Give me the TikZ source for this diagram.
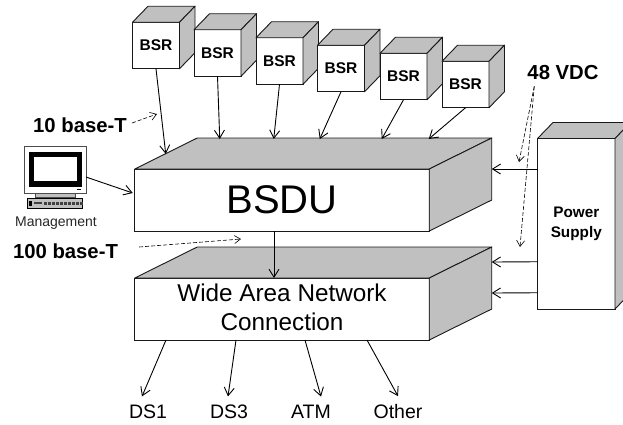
\documentclass[tikz,border=0pt]{standalone}
\usepackage{fontspec}
\setmainfont{Liberation Sans}
\usetikzlibrary{arrows.meta}

\definecolor{facegray}{HTML}{C0C0C0}

% grey top and side of a box, #1 is the front node
\newcommand{\boxfaces}[3]{
	\filldraw[face] (#1.north west) -- ([shift={(#2,-#3)}]#1.north west) -- ([shift={(#2,-#3)}]#1.north east) -- (#1.north east) -- cycle;
	\filldraw[face] (#1.north east) -- ([shift={(#2,-#3)}]#1.north east) -- ([shift={(#2,-#3)}]#1.south east) -- (#1.south east) -- cycle;
}

\begin{document}
\begin{tikzpicture}[x=1pt,y=-1pt]
	\tikzstyle{front}=[rectangle,draw=black!90,fill=white,line width=0.9pt,inner sep=0pt,outer sep=0pt,align=center]
	\tikzstyle{bsrbox}=[front,minimum width=47pt,minimum height=46.5pt,font=\fontsize{15.5}{18}\selectfont\bfseries]
	\tikzstyle{unit}=[front,minimum width=294.5pt,minimum height=62pt]
	\tikzstyle{face}=[draw=black!90,fill=facegray,line width=0.9pt,line join=round]
	\tikzstyle{edge}=[draw=black,line width=0.9pt,-{Straight Barb[length=8pt,width=10pt]}]
	\tikzstyle{hint}=[draw=black,line width=0.6pt,dash pattern=on 4pt off 2pt,-{Straight Barb[length=6pt,width=8pt]}]
	\tikzstyle{boldlabel}=[inner sep=0pt,font=\fontsize{20.3}{24}\selectfont\bfseries]
	\tikzstyle{outlabel}=[inner sep=0pt,font=\fontsize{19.5}{23}\selectfont]

	\useasboundingbox (0,0) rectangle (623,424);

	\foreach \n/\x/\y in {1/156/45.5,2/217.5/53,3/279.5/61,4/341/68.5,5/403.5/76.5,6/465.5/84.5}{
		\node [bsrbox] (bsr\n) at (\x,\y) {BSR};
		\boxfaces{bsr\n}{15.5}{16}
	}

	\node [unit,font=\fontsize{40}{44}\selectfont] (bsdu) at (282,200) {BSDU};
	\boxfaces{bsdu}{62.5}{31}
	\node [unit] (wan) at (282,309) {};
	\boxfaces{wan}{62.5}{31}
	\node [align=center,inner sep=0pt,font=\fontsize{24.3}{29}\selectfont] (wantext) at ([yshift=2]wan.center) {Wide Area Network\\Connection};
	\node [front,minimum width=77.5pt,minimum height=170.5pt,font=\fontsize{15.3}{19.5}\selectfont\bfseries] (power) at (576.25,223.75) {Power\\Supply};
	\boxfaces{power}{15.5}{16}

	% management terminal
	\node [front,draw=black!70,minimum width=62pt,minimum height=47pt] (monitor) at (55,169.5) {};
	\fill [black] (29,152) rectangle (82,187);
	\fill [white] (34,157) rectangle (77,181);
	\fill [black] (77,188.5) rectangle (81,190);
	\filldraw [draw=black!70,fill=facegray,line width=0.5pt] (35,193) rectangle (75,197);
	\filldraw [draw=black,fill=facegray,line width=0.7pt] (27,198) rectangle (82,208);
	\foreach \x in {44,48,...,80}{
		\fill [black!75] (\x,202) rectangle ++(2.5,3);
	}
	\fill [black] (29,201) rectangle (32,206);
	\fill [black!75] (34,202) rectangle (42,204);
	\node [inner sep=0pt,font=\fontsize{14}{16}\selectfont,text=black!85] (mgmt) at (56,223) {Management};

	\node [boldlabel] (tenbase) at (80,125) {10 base-T};
	\node [boldlabel] (hundredbase) at (65.5,251) {100 base-T};
	\node [boldlabel] (vdc) at (563,73) {48 VDC};
	\node [outlabel] (dsone) at (148,411.5) {DS1};
	\node [outlabel] (dsthree) at (229,411.5) {DS3};
	\node [outlabel] (atm) at (311,411.5) {ATM};
	\node [outlabel] (other) at (398,411.5) {Other};

	\coordinate (tenend) at (157,114);
	\coordinate (hundredend) at (241,239);
	\coordinate (vdcupper) at (519,162);
	\coordinate (vdclower) at (520,247);

	\foreach \n/\dx/\dy in {1/31/-15,2/85/-30,3/139/-30,4/185/-30,5/247/-30,6/294/-30}{
		\path[edge] (bsr\n.south) -- ([shift={(\dx,\dy)}]bsdu.north west);
	}
	\path[edge] ([yshift=-7.5]monitor.east) -- ([shift={(-2,-7)}]bsdu.west);
	\path[edge] ([xshift=-8]bsdu.south) -- ([xshift=-8]wan.north);
	\path[edge] (power.west |- bsdu.north) -- ([xshift=62.5]bsdu.north east);
	\path[edge] ([yshift=-38]power.west) -- ([shift={(62.5,-16)}]wan.north east);
	\path[edge] ([yshift=-69]power.west) -- ([shift={(62.5,15)}]wan.north east);

	\path[edge] ([xshift=-116]wan.south) -- ([shift={(-6,-8)}]dsone.north);
	\path[edge] ([xshift=-46]wan.south) -- ([shift={(-1,-8)}]dsthree.north);
	\path[edge] ([xshift=23]wan.south) -- ([shift={(10,-8)}]atm.north);
	\path[edge] ([xshift=85]wan.south) -- ([yshift=8]other.north);

	\path[hint] ([xshift=5,yshift=2]tenbase.east) -- (tenend);
	\path[hint] ([xshift=21,yshift=4]hundredbase.east) -- (hundredend);
	\path[hint] ([shift={(7,6)}]vdc.south west) -- (vdcupper);
	\path[hint] ([shift={(7,6)}]vdc.south west) -- (vdclower);
\end{tikzpicture}
\end{document}
